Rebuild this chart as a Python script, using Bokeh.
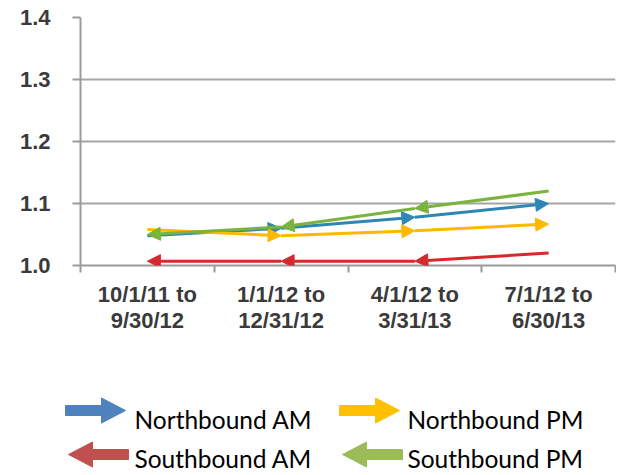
from bokeh.plotting import figure
from bokeh.models import Range1d, FixedTicker, ColumnDataSource, Arrow, NormalHead, NumeralTickFormatter
from bokeh.layouts import column
from bokeh.embed import file_html
from bokeh.resources import INLINE
from bokeh.core.properties import value

# ---- data ----
periods = ["10/1/11 to\n9/30/12", "1/1/12 to\n12/31/12", "4/1/12 to\n3/31/13", "7/1/12 to\n6/30/13"]
northbound_am = [1.048, 1.060, 1.078, 1.100]
northbound_pm = [1.058, 1.048, 1.056, 1.067]
southbound_am = [1.007, 1.007, 1.007, 1.020]
southbound_pm = [1.050, 1.062, 1.092, 1.120]
series_names = ["Northbound AM", "Northbound PM", "Southbound AM", "Southbound PM"]
y_ticks = [1.0, 1.1, 1.2, 1.3, 1.4]

# ---- styles ----
line_colors = ["#2E86B5", "#FFB800", "#D42A2E", "#7AB33E"]
legend_colors = ["#4F81BD", "#FFC000", "#C0504D", "#9BBB59"]
directions = [1, 1, -1, -1]   # arrow points forward (1) or backward (-1)
series = [northbound_am, northbound_pm, southbound_am, southbound_pm]

n = len(periods)
centers = [i + 0.5 for i in range(n)]
bounds = [float(i) for i in range(n + 1)]

W = 616
TOTAL_H = 473
TOP_H = 340
p = figure(width=W, height=TOP_H, x_range=Range1d(0, n), y_range=Range1d(y_ticks[0], y_ticks[-1]),
           output_backend="svg", toolbar_location=None,
           min_border_left=80, min_border_right=1, min_border_top=17, min_border_bottom=TOP_H - 265)
p.outline_line_color = None
p.background_fill_color = "white"
p.border_fill_color = "white"

tick_font = "Liberation Sans"
tick_color = "#3a3a3a"

# y axis
p.yaxis.ticker = FixedTicker(ticks=y_ticks)
p.yaxis.formatter = NumeralTickFormatter(format="0.0")
p.yaxis.axis_line_color = "#9a9a9a"
p.yaxis.axis_line_width = 2
p.yaxis.major_tick_line_color = "#9a9a9a"
p.yaxis.major_tick_line_width = 2
p.yaxis.major_tick_out = 8
p.yaxis.major_tick_in = 0
p.yaxis.minor_tick_line_color = None
p.yaxis.major_label_standoff = 22
p.yaxis.major_label_text_font = tick_font
p.yaxis.major_label_text_font_size = "22px"
p.yaxis.major_label_text_font_style = "bold"
p.yaxis.major_label_text_color = tick_color

# x axis: labels at centers, tick marks at boundaries
p.xaxis.ticker = FixedTicker(ticks=centers, minor_ticks=bounds)
p.xaxis.major_label_overrides = {c: lab for c, lab in zip(centers, periods)}
p.xaxis.axis_line_color = "#9a9a9a"
p.xaxis.axis_line_width = 2
p.xaxis.major_tick_line_color = None
p.xaxis.major_tick_out = 0
p.xaxis.major_tick_in = 0
p.xaxis.minor_tick_line_color = "#9a9a9a"
p.xaxis.minor_tick_line_width = 2
p.xaxis.minor_tick_out = 7
p.xaxis.minor_tick_in = 0
p.xaxis.major_label_standoff = 9
p.xaxis.major_label_text_font = tick_font
p.xaxis.major_label_text_font_size = "22px"
p.xaxis.major_label_text_font_style = "bold"
p.xaxis.major_label_text_color = tick_color
p.xaxis.major_label_text_line_height = 1.05

p.xgrid.grid_line_color = None
p.ygrid.ticker = FixedTicker(ticks=y_ticks)
p.ygrid.grid_line_color = "#a6a6a6"
p.ygrid.grid_line_width = 2

for vals, col, d in zip(series, line_colors, directions):
    xs0, ys0, xs1, ys1 = [], [], [], []
    for i in range(n - 1):
        a, b = (i, i + 1) if d > 0 else (i + 1, i)
        xs0.append(centers[a]); ys0.append(vals[a])
        xs1.append(centers[b]); ys1.append(vals[b])
    src = ColumnDataSource(dict(x0=xs0, y0=ys0, x1=xs1, y1=ys1))
    p.add_layout(Arrow(source=src, x_start="x0", y_start="y0", x_end="x1", y_end="y1",
                       line_color=col, line_width=3,
                       end=NormalHead(size=13, fill_color=col, line_color=col, line_width=1)))

# ---- legend figure (coordinates in pixels, y downward) ----
LH = TOTAL_H - TOP_H
lg = figure(width=W, height=LH, x_range=Range1d(0, W), y_range=Range1d(LH, 0),
            output_backend="svg", toolbar_location=None, min_border=0,
            x_axis_location=None, y_axis_location=None)
lg.outline_line_color = None
lg.grid.visible = False

for fig in (p, lg):
    if "frame_align" in fig.properties():
        fig.frame_align = False

arrow_x = [65, 339, 68, 342]
arrow_y = [410 - TOP_H, 410 - TOP_H, 454 - TOP_H, 454 - TOP_H]
text_x = [134, 407, 134, 407]
text_y = [419 - TOP_H, 419 - TOP_H, 458 - TOP_H, 458 - TOP_H]
L, HL, SH, HH = 60, 24, 5, 12.5
pxs, pys = [], []
for x0, yc, d in zip(arrow_x, arrow_y, directions):
    if d > 0:
        xs = [x0, x0 + L - HL, x0 + L - HL, x0 + L, x0 + L - HL, x0 + L - HL, x0]
    else:
        xs = [x0 + L, x0 + HL, x0 + HL, x0, x0 + HL, x0 + HL, x0 + L]
    ys = [yc - SH, yc - SH, yc - HH, yc, yc + HH, yc + SH, yc + SH]
    pxs.append(xs); pys.append(ys)
lg.patches(pxs, pys, fill_color=legend_colors, line_color=legend_colors, line_width=1)
lg.text(x=text_x, y=text_y, text=series_names, text_font=value("Lato"), text_font_size="24.5px",
        text_color="#000000", text_baseline="middle", text_align="left")

layout = column(p, lg, spacing=0)
open("out.html", "w").write(file_html(layout, INLINE))
